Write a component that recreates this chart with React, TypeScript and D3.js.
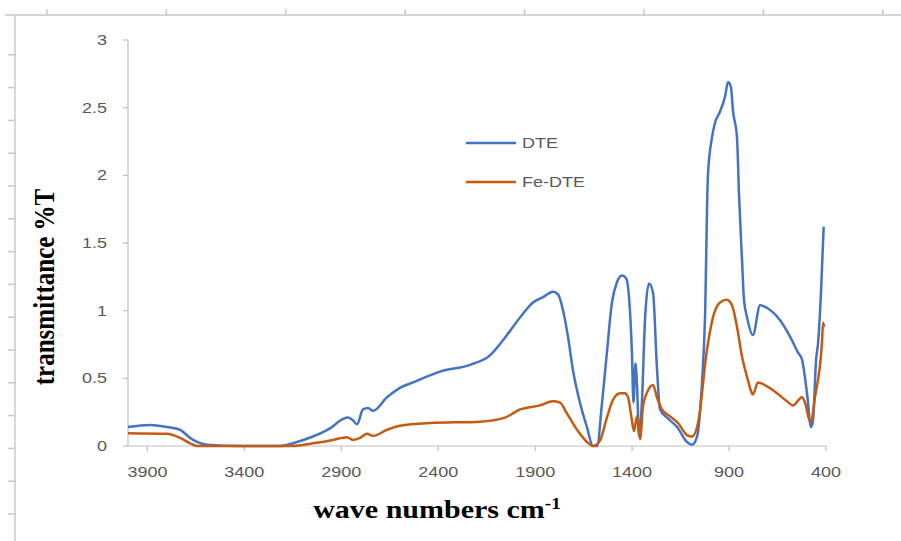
import React from "react";
import * as d3 from "d3";

// FTIR spectra (wave number cm-1, transmittance)
const dteWave = [4000, 3887, 3799, 3732, 3680, 3644, 3593, 3422, 3216, 3128, 3046, 2958, 2891, 2865, 2840, 2819, 2788, 2762, 2736, 2664, 2597, 2530, 2391, 2236, 2133, 2056, 1978, 1911, 1860, 1808, 1782, 1756, 1731, 1705, 1669, 1633, 1602, 1581, 1555, 1530, 1504, 1478, 1452, 1431, 1416, 1401, 1393, 1383, 1375, 1364, 1349, 1333, 1313, 1292, 1272, 1256, 1220, 1168, 1117, 1091, 1065, 1040, 1024, 1009, 988, 972, 947, 921, 905, 890, 880, 859, 849, 833, 823, 807, 777, 740, 704, 637, 586, 544, 524, 498, 477, 467, 451, 441, 426, 412];
const dteT = [0.14, 0.155, 0.14, 0.12, 0.06, 0.03, 0.01, 0.0, 0.0, 0.03, 0.07, 0.13, 0.2, 0.21, 0.19, 0.16, 0.27, 0.28, 0.26, 0.36, 0.43, 0.47, 0.55, 0.6, 0.67, 0.8, 0.95, 1.06, 1.1, 1.14, 1.12, 1.0, 0.81, 0.56, 0.32, 0.14, 0.0, 0.0, 0.32, 0.69, 1.06, 1.21, 1.26, 1.24, 1.1, 0.69, 0.32, 0.61, 0.46, 0.07, 0.34, 0.95, 1.2, 1.13, 0.58, 0.27, 0.21, 0.14, 0.03, 0.01, 0.07, 0.46, 0.95, 2.0, 2.28, 2.39, 2.47, 2.58, 2.69, 2.65, 2.48, 2.28, 1.87, 1.37, 1.08, 0.95, 0.82, 1.04, 1.02, 0.93, 0.81, 0.69, 0.64, 0.39, 0.14, 0.19, 0.64, 0.76, 1.13, 1.62];

const feWave = [4000, 3799, 3732, 3680, 3644, 3149, 3046, 2943, 2870, 2840, 2803, 2767, 2736, 2664, 2597, 2442, 2184, 2056, 1978, 1875, 1808, 1772, 1736, 1684, 1633, 1602, 1566, 1530, 1499, 1462, 1437, 1421, 1401, 1390, 1375, 1359, 1344, 1318, 1292, 1272, 1246, 1205, 1163, 1117, 1091, 1060, 1014, 983, 947, 911, 885, 859, 833, 807, 782, 777, 751, 704, 653, 601, 570, 524, 508, 482, 477, 457, 421, 415, 410];
const feT = [0.095, 0.09, 0.06, 0.02, 0.0, 0.0, 0.02, 0.045, 0.065, 0.045, 0.06, 0.09, 0.075, 0.12, 0.15, 0.17, 0.18, 0.21, 0.27, 0.3, 0.33, 0.32, 0.24, 0.12, 0.03, 0.0, 0.04, 0.21, 0.34, 0.39, 0.39, 0.36, 0.19, 0.11, 0.22, 0.05, 0.29, 0.41, 0.45, 0.36, 0.27, 0.22, 0.17, 0.08, 0.07, 0.17, 0.71, 0.95, 1.06, 1.08, 1.04, 0.88, 0.66, 0.51, 0.39, 0.38, 0.47, 0.44, 0.39, 0.33, 0.3, 0.36, 0.32, 0.18, 0.18, 0.36, 0.76, 0.91, 0.88];

const xTicks = [3900, 3400, 2900, 2400, 1900, 1400, 900, 400];
const yTicks = [0, 0.5, 1, 1.5, 2, 2.5, 3];
const seriesNames = ["DTE", "Fe-DTE"];

const W = 901;
const H = 541;
const axisCol = "#bfbfbf";
const labelCol = "#595959";
const colors = ["#4472c4", "#c55a11"];

export default function App() {
  const x = d3.scaleLinear().domain([4000, 400]).range([128, 826]);
  const y = d3.scaleLinear().domain([0, 3]).range([446, 40]);

  const line = d3
    .line<[number, number]>()
    .x((d) => x(d[0]))
    .y((d) => y(d[1]))
    .curve(d3.curveMonotoneX);

  const series = [
    dteWave.map((w, i) => [w, dteT[i]] as [number, number]),
    feWave.map((w, i) => [w, feT[i]] as [number, number]),
  ];

  // ruler marks of the page frame
  const topRuler = d3.range(8).map((i) => 47 + i * 119.4);
  const leftRuler = d3.range(15).map((i) => 514 - i * 32.8);

  return (
    <svg
      width={W}
      height={H}
      style={{ position: "absolute", left: 0, top: 0, background: "#fff" }}
    >
      {/* page frame */}
      <g stroke="#c8c8c8" strokeWidth={1.5}>
        <line x1={5} x2={W} y1={15} y2={15} />
        <line x1={15} x2={15} y1={15} y2={H} />
        {topRuler.map((t) => (
          <line key={"t" + t} x1={t} x2={t} y1={9} y2={15} />
        ))}
        {leftRuler.map((t) => (
          <line key={"l" + t} x1={8} x2={15} y1={t} y2={t} />
        ))}
      </g>

      {/* axes */}
      <g stroke={axisCol} strokeWidth={1.2}>
        <line x1={x(4000)} x2={x(4000)} y1={y(3)} y2={y(0)} />
        <line x1={x(4000)} x2={x(400)} y1={y(0)} y2={y(0)} />
        {yTicks.map((t) => (
          <line key={t} x1={x(4000) - 5} x2={x(4000)} y1={y(t)} y2={y(t)} />
        ))}
        {xTicks.map((t) => (
          <line key={t} x1={x(t)} x2={x(t)} y1={y(0)} y2={y(0) + 5} />
        ))}
      </g>

      <g fill={labelCol} fontFamily="Liberation Sans, Arial, sans-serif" fontSize={15}>
        {yTicks.map((t) => (
          <text
            key={t}
            transform={`translate(107,${y(t) + 5}) scale(1.2,1)`}
            textAnchor="end"
          >
            {t}
          </text>
        ))}
        {xTicks.map((t) => (
          <text
            key={t}
            transform={`translate(${x(t)},${477}) scale(1.2,1)`}
            textAnchor="middle"
          >
            {t}
          </text>
        ))}
      </g>

      {/* spectra */}
      {series.map((s, i) => (
        <path
          key={seriesNames[i]}
          d={line(s) || ""}
          fill="none"
          stroke={colors[i]}
          strokeWidth={2.5}
          strokeLinejoin="round"
        />
      ))}

      {/* legend */}
      {seriesNames.map((name, i) => (
        <g key={name} transform={`translate(466,${143 + i * 39})`}>
          <line x1={0} x2={50} y1={0} y2={0} stroke={colors[i]} strokeWidth={2.5} />
          <text
            transform="translate(56,5) scale(1.2,1)"
            fill={labelCol}
            fontFamily="Liberation Sans, Arial, sans-serif"
            fontSize={15}
          >
            {name}
          </text>
        </g>
      ))}

      {/* axis titles */}
      <text
        transform="translate(437,518) scale(1.2,1)"
        textAnchor="middle"
        fontFamily="Liberation Serif, Times New Roman, serif"
        fontWeight="bold"
        fontSize={25}
        fill="#000"
      >
        wave numbers cm
        <tspan dy={-9} fontSize={16}>-1</tspan>
      </text>
      <text
        transform="translate(54,287) scale(1.2,1) rotate(-90)"
        textAnchor="middle"
        fontFamily="Liberation Serif, Times New Roman, serif"
        fontWeight="bold"
        fontSize={25}
        fill="#000"
      >
        transmittance %T
      </text>
    </svg>
  );
}
